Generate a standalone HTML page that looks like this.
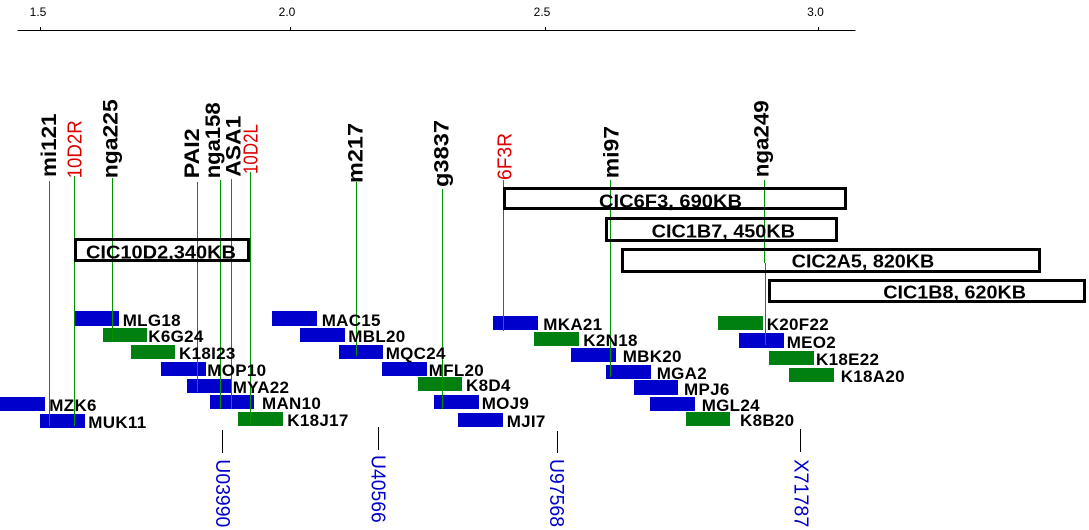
<!DOCTYPE html>
<html><head><meta charset="utf-8"><style>
html,body{margin:0;padding:0;background:#fff;}
svg{display:block;}
</style></head><body>
<svg width="1089" height="530" xmlns="http://www.w3.org/2000/svg" font-family="'Liberation Sans', Arial, sans-serif">
<rect width="1089" height="530" fill="#fff"/>
<!-- ruler -->
<g shape-rendering="crispEdges" stroke="#000" stroke-width="1">
<line x1="17.5" y1="30.5" x2="855.5" y2="30.5"/>
<line x1="40.5" y1="27" x2="40.5" y2="30"/>
<line x1="290.5" y1="27" x2="290.5" y2="30"/>
<line x1="545.5" y1="27" x2="545.5" y2="30"/>
<line x1="818.5" y1="27" x2="818.5" y2="30"/>
</g>
<g font-size="12" fill="#000" text-anchor="middle">
<text x="38" y="15.8">1.5</text>
<text x="287" y="15.8">2.0</text>
<text x="542" y="15.8">2.5</text>
<text x="815.5" y="15.8">3.0</text>
</g>

<!-- marker lines -->
<g shape-rendering="crispEdges" stroke="#009400" stroke-width="1">
<line x1="49.5" y1="181" x2="49.5" y2="426"/>
<line x1="74.5" y1="176" x2="74.5" y2="426"/>
<line x1="112.5" y1="178" x2="112.5" y2="341"/>
<line x1="197.5" y1="182" x2="197.5" y2="392"/>
<line x1="220.5" y1="180" x2="220.5" y2="409"/>
<line x1="231.5" y1="179" x2="231.5" y2="409"/>
<line x1="250.5" y1="172" x2="250.5" y2="426"/>
<line x1="356.5" y1="182" x2="356.5" y2="356"/>
<line x1="442.5" y1="189" x2="442.5" y2="409"/>
<line x1="503.5" y1="180" x2="503.5" y2="331"/>
<line x1="610.5" y1="180" x2="610.5" y2="377"/>
<line x1="764.5" y1="180" x2="764.5" y2="263"/>
<line x1="765.5" y1="263" x2="765.5" y2="345"/>
</g>

<!-- marker labels -->
<g font-size="21" font-weight="bold" fill="#000">
<text transform="translate(56,177) rotate(-90)" textLength="63.5" lengthAdjust="spacingAndGlyphs">mi121</text>
<text transform="translate(117.3,178.3) rotate(-90)" textLength="79" lengthAdjust="spacingAndGlyphs">nga225</text>
<text transform="translate(198.8,178.3) rotate(-90)" textLength="50" lengthAdjust="spacingAndGlyphs">PAI2</text>
<text transform="translate(220,178.3) rotate(-90)" textLength="76" lengthAdjust="spacingAndGlyphs">nga158</text>
<text transform="translate(240.5,176.7) rotate(-90)" textLength="61" lengthAdjust="spacingAndGlyphs">ASA1</text>
<text transform="translate(362.7,183) rotate(-90)" textLength="60" lengthAdjust="spacingAndGlyphs">m217</text>
<text transform="translate(448.3,187) rotate(-90)" textLength="67" lengthAdjust="spacingAndGlyphs">g3837</text>
<text transform="translate(618.3,178.3) rotate(-90)" textLength="52.3" lengthAdjust="spacingAndGlyphs">mi97</text>
<text transform="translate(768.3,177.3) rotate(-90)" textLength="77" lengthAdjust="spacingAndGlyphs">nga249</text>
</g>
<g font-size="20" fill="#dd0000">
<text transform="translate(81.5,178.3) rotate(-90)" textLength="58" lengthAdjust="spacingAndGlyphs">10D2R</text>
<text transform="translate(257.7,174) rotate(-90)" textLength="50" lengthAdjust="spacingAndGlyphs">10D2L</text>
<text transform="translate(511.7,180) rotate(-90)" textLength="47" lengthAdjust="spacingAndGlyphs">6F3R</text>
</g>

<!-- CIC boxes -->
<g fill="none" stroke="#000" stroke-width="3" shape-rendering="crispEdges">
<rect x="75.5" y="239.5" width="173" height="21"/>
<rect x="504.5" y="188.5" width="341" height="20"/>
<rect x="606.5" y="218.5" width="230" height="22"/>
<rect x="622.5" y="249.5" width="417" height="22"/>
<rect x="769.5" y="280.5" width="315" height="21"/>
</g>
<g font-size="18" font-weight="bold" fill="#000">
<text x="86" y="258.3" textLength="150" lengthAdjust="spacingAndGlyphs">CIC10D2,340KB</text>
<text x="599" y="207.3" textLength="143" lengthAdjust="spacingAndGlyphs">CIC6F3, 690KB</text>
<text x="651.7" y="237.7" textLength="143.3" lengthAdjust="spacingAndGlyphs">CIC1B7, 450KB</text>
<text x="791.7" y="267.3" textLength="142.6" lengthAdjust="spacingAndGlyphs">CIC2A5, 820KB</text>
<text x="883.3" y="298.3" textLength="142.7" lengthAdjust="spacingAndGlyphs">CIC1B8, 620KB</text>
</g>

<!-- clone bars -->
<g shape-rendering="crispEdges">
<rect x="74" y="311" width="45" height="15" fill="#0000cc"/>
<rect x="103" y="328" width="44" height="14" fill="#008010"/>
<rect x="131" y="345" width="44" height="14" fill="#008010"/>
<rect x="161" y="362" width="45" height="14" fill="#0000cc"/>
<rect x="187" y="379" width="45" height="14" fill="#0000cc"/>
<rect x="210" y="395" width="44" height="14" fill="#0000cc"/>
<rect x="238" y="412" width="45" height="14" fill="#008010"/>
<rect x="0" y="397" width="45" height="14" fill="#0000cc"/>
<rect x="40" y="414" width="45" height="14" fill="#0000cc"/>
<rect x="272" y="311" width="45" height="15" fill="#0000cc"/>
<rect x="300" y="328" width="45" height="14" fill="#0000cc"/>
<rect x="339" y="345" width="44" height="14" fill="#0000cc"/>
<rect x="382" y="362" width="45" height="14" fill="#0000cc"/>
<rect x="418" y="377" width="44" height="14" fill="#008010"/>
<rect x="434" y="395" width="45" height="14" fill="#0000cc"/>
<rect x="458" y="413" width="45" height="14" fill="#0000cc"/>
<rect x="493" y="316" width="45" height="14" fill="#0000cc"/>
<rect x="534" y="332" width="45" height="14" fill="#008010"/>
<rect x="571" y="348" width="45" height="14" fill="#0000cc"/>
<rect x="606" y="365" width="45" height="14" fill="#0000cc"/>
<rect x="634" y="380" width="44" height="15" fill="#0000cc"/>
<rect x="650" y="397" width="45" height="14" fill="#0000cc"/>
<rect x="686" y="412" width="44" height="14" fill="#008010"/>
<rect x="718" y="316" width="45" height="14" fill="#008010"/>
<rect x="739" y="333" width="45" height="15" fill="#0000cc"/>
<rect x="769" y="351" width="45" height="14" fill="#008010"/>
<rect x="789" y="368" width="45" height="14" fill="#008010"/>
</g>
<!-- lines drawn over bars where they cross -->
<g shape-rendering="crispEdges" stroke="#009400" stroke-width="1">
<line x1="49.5" y1="397" x2="49.5" y2="426"/>
<line x1="74.5" y1="311" x2="74.5" y2="426"/>
<line x1="112.5" y1="311" x2="112.5" y2="341"/>
<line x1="197.5" y1="362" x2="197.5" y2="392"/>
<line x1="220.5" y1="379" x2="220.5" y2="409"/>
<line x1="231.5" y1="379" x2="231.5" y2="409"/>
<line x1="250.5" y1="395" x2="250.5" y2="426"/>
<line x1="356.5" y1="328" x2="356.5" y2="356"/>
<line x1="442.5" y1="377" x2="442.5" y2="409"/>
<line x1="503.5" y1="316" x2="503.5" y2="331"/>
<line x1="610.5" y1="348" x2="610.5" y2="377"/>
<line x1="765.5" y1="316" x2="765.5" y2="345"/>
</g>

<!-- clone labels -->
<g font-size="17" font-weight="bold" fill="#000" letter-spacing="0.3">
<text x="122.7" y="326">MLG18</text>
<text x="148.3" y="342">K6G24</text>
<text x="179" y="359">K18I23</text>
<text x="207.3" y="376">MOP10</text>
<text x="232.7" y="393">MYA22</text>
<text x="262" y="409">MAN10</text>
<text x="287.3" y="426">K18J17</text>
<text x="49.3" y="411">MZK6</text>
<text x="88.3" y="428">MUK11</text>
<text x="321.7" y="326">MAC15</text>
<text x="348.3" y="342">MBL20</text>
<text x="385.7" y="359">MQC24</text>
<text x="428.7" y="376">MFL20</text>
<text x="466" y="391">K8D4</text>
<text x="481.7" y="409">MOJ9</text>
<text x="506.7" y="427">MJI7</text>
<text x="543.3" y="330">MKA21</text>
<text x="583.3" y="346">K2N18</text>
<text x="622.7" y="362">MBK20</text>
<text x="656.7" y="379">MGA2</text>
<text x="684" y="395">MPJ6</text>
<text x="701.7" y="411">MGL24</text>
<text x="740" y="426">K8B20</text>
<text x="766.7" y="330">K20F22</text>
<text x="786.7" y="348">MEO2</text>
<text x="816" y="365">K18E22</text>
<text x="840.7" y="382">K18A20</text>
</g>

<!-- bottom accession ticks -->
<g shape-rendering="crispEdges" stroke="#000" stroke-width="1">
<line x1="222.5" y1="430" x2="222.5" y2="453"/>
<line x1="378.5" y1="427" x2="378.5" y2="450"/>
<line x1="557.5" y1="431" x2="557.5" y2="453"/>
<line x1="800.5" y1="429" x2="800.5" y2="452"/>
</g>
<g font-size="20" fill="#0000cc">
<text transform="translate(216,459.3) rotate(90)" textLength="68" lengthAdjust="spacingAndGlyphs">U03990</text>
<text transform="translate(371.7,455) rotate(90)" textLength="67.7" lengthAdjust="spacingAndGlyphs">U40566</text>
<text transform="translate(550,459) rotate(90)" textLength="68" lengthAdjust="spacingAndGlyphs">U97568</text>
<text transform="translate(794.3,459.3) rotate(90)" textLength="68" lengthAdjust="spacingAndGlyphs">X71787</text>
</g>
</svg>
</body></html>
